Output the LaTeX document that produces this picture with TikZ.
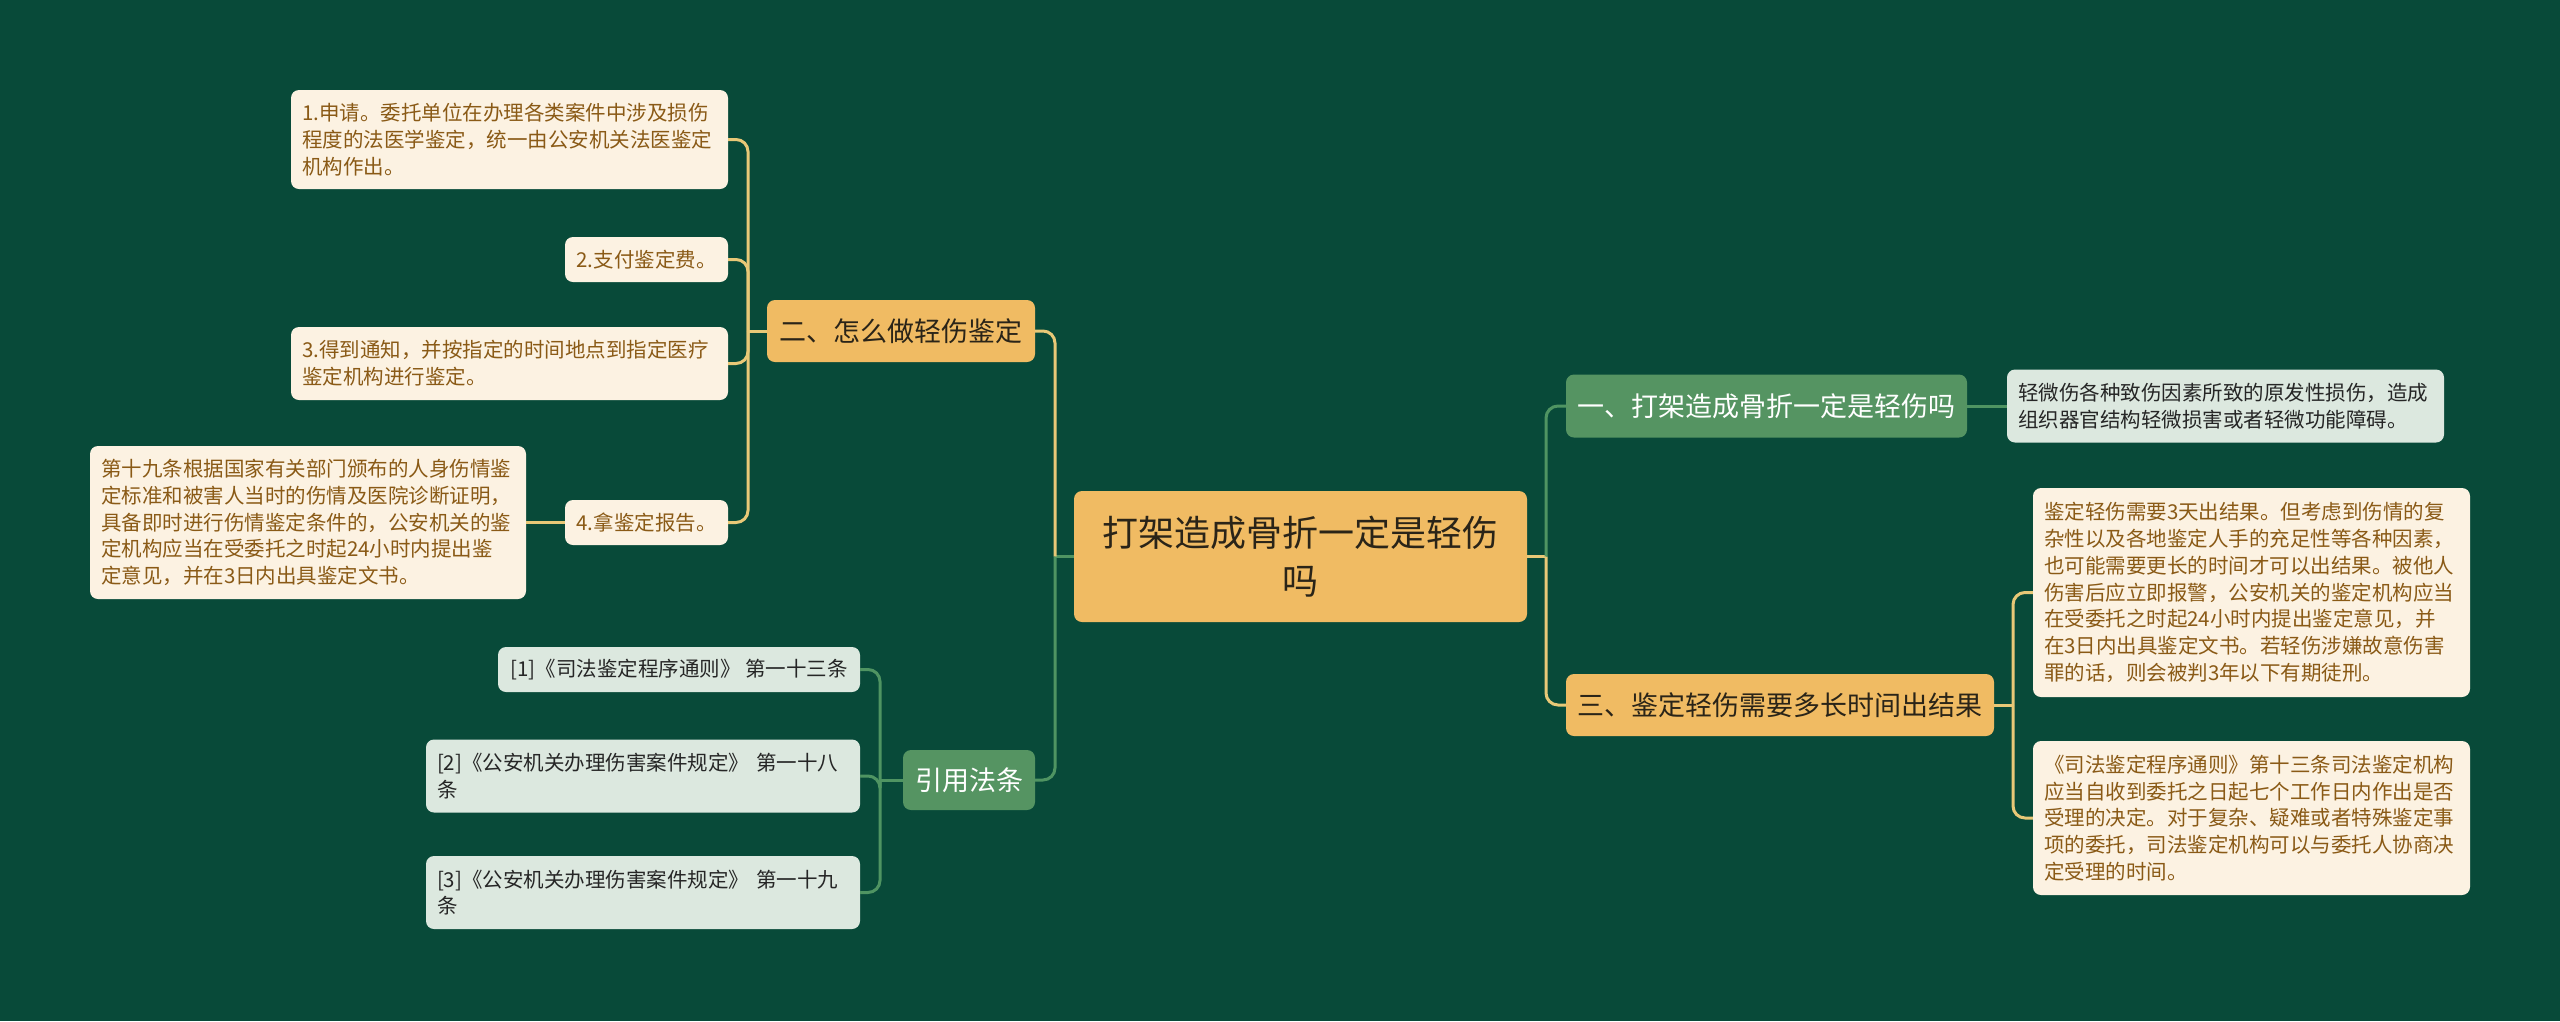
\documentclass[tikz,border=0pt]{standalone}
\usepackage{fontspec}
\newfontfamily\cjk{Noto Sans CJK SC}
\definecolor{bgc}{HTML}{084A39}
\definecolor{orangec}{HTML}{F0BB63}
\definecolor{creamc}{HTML}{FCF2E2}
\definecolor{greenc}{HTML}{559462}
\definecolor{greyc}{HTML}{DCE8DF}
\definecolor{ylwc}{HTML}{E8C877}
\definecolor{grnc}{HTML}{4F9462}
\definecolor{brownt}{HTML}{8A5A16}
\definecolor{darkt}{HTML}{2A2418}
\definecolor{greyt}{HTML}{262626}
\tikzset{
  box/.style={rounded corners=8pt, inner xsep=11pt, inner ysep=0pt, anchor=center},
  leaffont/.style={font=\cjk\fontsize{20.5}{26.7}\selectfont},
  cream/.style={box, leaffont, fill=creamc, text=brownt, align=left},
  greyleaf/.style={box, leaffont, fill=greyc, text=greyt, align=left},
  orangen/.style={box, fill=orangec, text=darkt, align=center, font=\cjk\fontsize{27}{34}\selectfont},
  greenn/.style={box, fill=greenc, text=white, align=center, font=\cjk\fontsize{27}{34}\selectfont},
  ylw/.style={draw=ylwc, line width=3pt},
  grn/.style={draw=grnc, line width=3pt},
  rc/.style={rounded corners=12pt}
}
\begin{document}
\begin{tikzpicture}[x=1pt,y=1pt]
\fill[bgc] (0,0) rectangle (2560,-1021);
\useasboundingbox (0,0) rectangle (2560,-1021);

% root
\node[orangen, font=\cjk\fontsize{36}{48}\selectfont, text width=431pt, minimum height=131pt] (root) at (1300.5,-556.5) {打架造成骨折一定是轻伤\\吗};

% right side
\node[greenn, minimum width=401pt, minimum height=63pt] (n1) at (1766.5,-406) {一、打架造成骨折一定是轻伤吗};
\node[greyleaf, text width=415pt, minimum height=73pt] (l1) at (2225.5,-406) {轻微伤各种致伤因素所致的原发性损伤，造成\\组织器官结构轻微损害或者轻微功能障碍。};
\node[orangen, minimum width=428pt, minimum height=62pt] (n3) at (1780,-705) {三、鉴定轻伤需要多长时间出结果};
\node[cream, text width=415pt, minimum height=209pt] (l3a) at (2251.5,-592.5) {鉴定轻伤需要3天出结果。但考虑到伤情的复\\杂性以及各地鉴定人手的充足性等各种因素，\\也可能需要更长的时间才可以出结果。被他人\\伤害后应立即报警，公安机关的鉴定机构应当\\在受委托之时起24小时内提出鉴定意见，并\\在3日内出具鉴定文书。若轻伤涉嫌故意伤害\\罪的话，则会被判3年以下有期徒刑。};
\node[cream, text width=415pt, minimum height=154pt] (l3b) at (2251.5,-818) {《司法鉴定程序通则》第十三条司法鉴定机构\\应当自收到委托之日起七个工作日内作出是否\\受理的决定。对于复杂、疑难或者特殊鉴定事\\项的委托，司法鉴定机构可以与委托人协商决\\定受理的时间。};

% left side
\node[orangen, minimum width=268pt, minimum height=62pt] (n2) at (901,-331) {二、怎么做轻伤鉴定};
\node[cream, text width=415pt, minimum height=99pt] (c1) at (509.5,-139.5) {1.申请。委托单位在办理各类案件中涉及损伤\\程度的法医学鉴定，统一由公安机关法医鉴定\\机构作出。};
\node[cream, minimum width=163pt, minimum height=45pt] (c2) at (646.5,-259.5) {2.支付鉴定费。};
\node[cream, text width=415pt, minimum height=73pt] (c3) at (509.5,-363.5) {3.得到通知，并按指定的时间地点到指定医疗\\鉴定机构进行鉴定。};
\node[cream, minimum width=163pt, minimum height=45pt] (c4) at (646.5,-522.5) {4.拿鉴定报告。};
\node[cream, text width=414pt, minimum height=153pt] (c4a) at (308,-522.5) {第十九条根据国家有关部门颁布的人身伤情鉴\\定标准和被害人当时的伤情及医院诊断证明，\\具备即时进行伤情鉴定条件的，公安机关的鉴\\定机构应当在受委托之时起24小时内提出鉴\\定意见，并在3日内出具鉴定文书。};

\node[greenn, minimum width=132pt, minimum height=60pt] (r) at (969,-780) {引用法条};
\node[greyleaf, minimum width=362pt, minimum height=45pt] (r1) at (679,-669.5) {[1]《司法鉴定程序通则》 第一十三条};
\node[greyleaf, text width=412pt, minimum height=73pt] (r2) at (643,-776) {[2]《公安机关办理伤害案件规定》 第一十八\\条};
\node[greyleaf, text width=412pt, minimum height=73pt] (r3) at (643,-892.5) {[3]《公安机关办理伤害案件规定》 第一十九\\条};

% junctions
\coordinate (jl) at (1055,-556.5);
\coordinate (jr) at (1546,-556.5);
\coordinate (j2) at (748,-331);
\coordinate (j3) at (2013,-705);
\coordinate (jR) at (880,-780);

% connectors root
\draw[grn] (root.west) -- (jl);
\draw[ylw, rc] (jl) |- (n2.east);
\draw[grn, rc] (jl) |- (r.east);
\draw[ylw] (root.east) -- (jr);
\draw[grn, rc] (jr) |- (n1.west);
\draw[ylw, rc] (jr) |- (n3.west);

% right children
\draw[grn] (n1.east) -- (l1.west);
\draw[ylw] (n3.east) -- (j3);
\draw[ylw, rc] (j3) |- (l3a.west);
\draw[ylw, rc] (j3) |- (l3b.west);

% n2 children
\draw[ylw] (n2.west) -- (j2);
\draw[ylw, rc] (j2) |- (c1.east);
\draw[ylw, rc] (j2) |- (c2.east);
\draw[ylw, rc] (j2) |- (c3.east);
\draw[ylw, rc] (j2) |- (c4.east);
\draw[ylw] (c4.west) -- (c4a.east);

% r children
\draw[grn] (r.west) -- (jR);
\draw[grn, rc] (jR) |- (r1.east);
\draw[grn, rc] (jR) |- (r2.east);
\draw[grn, rc] (jR) |- (r3.east);
\end{tikzpicture}
\end{document}
